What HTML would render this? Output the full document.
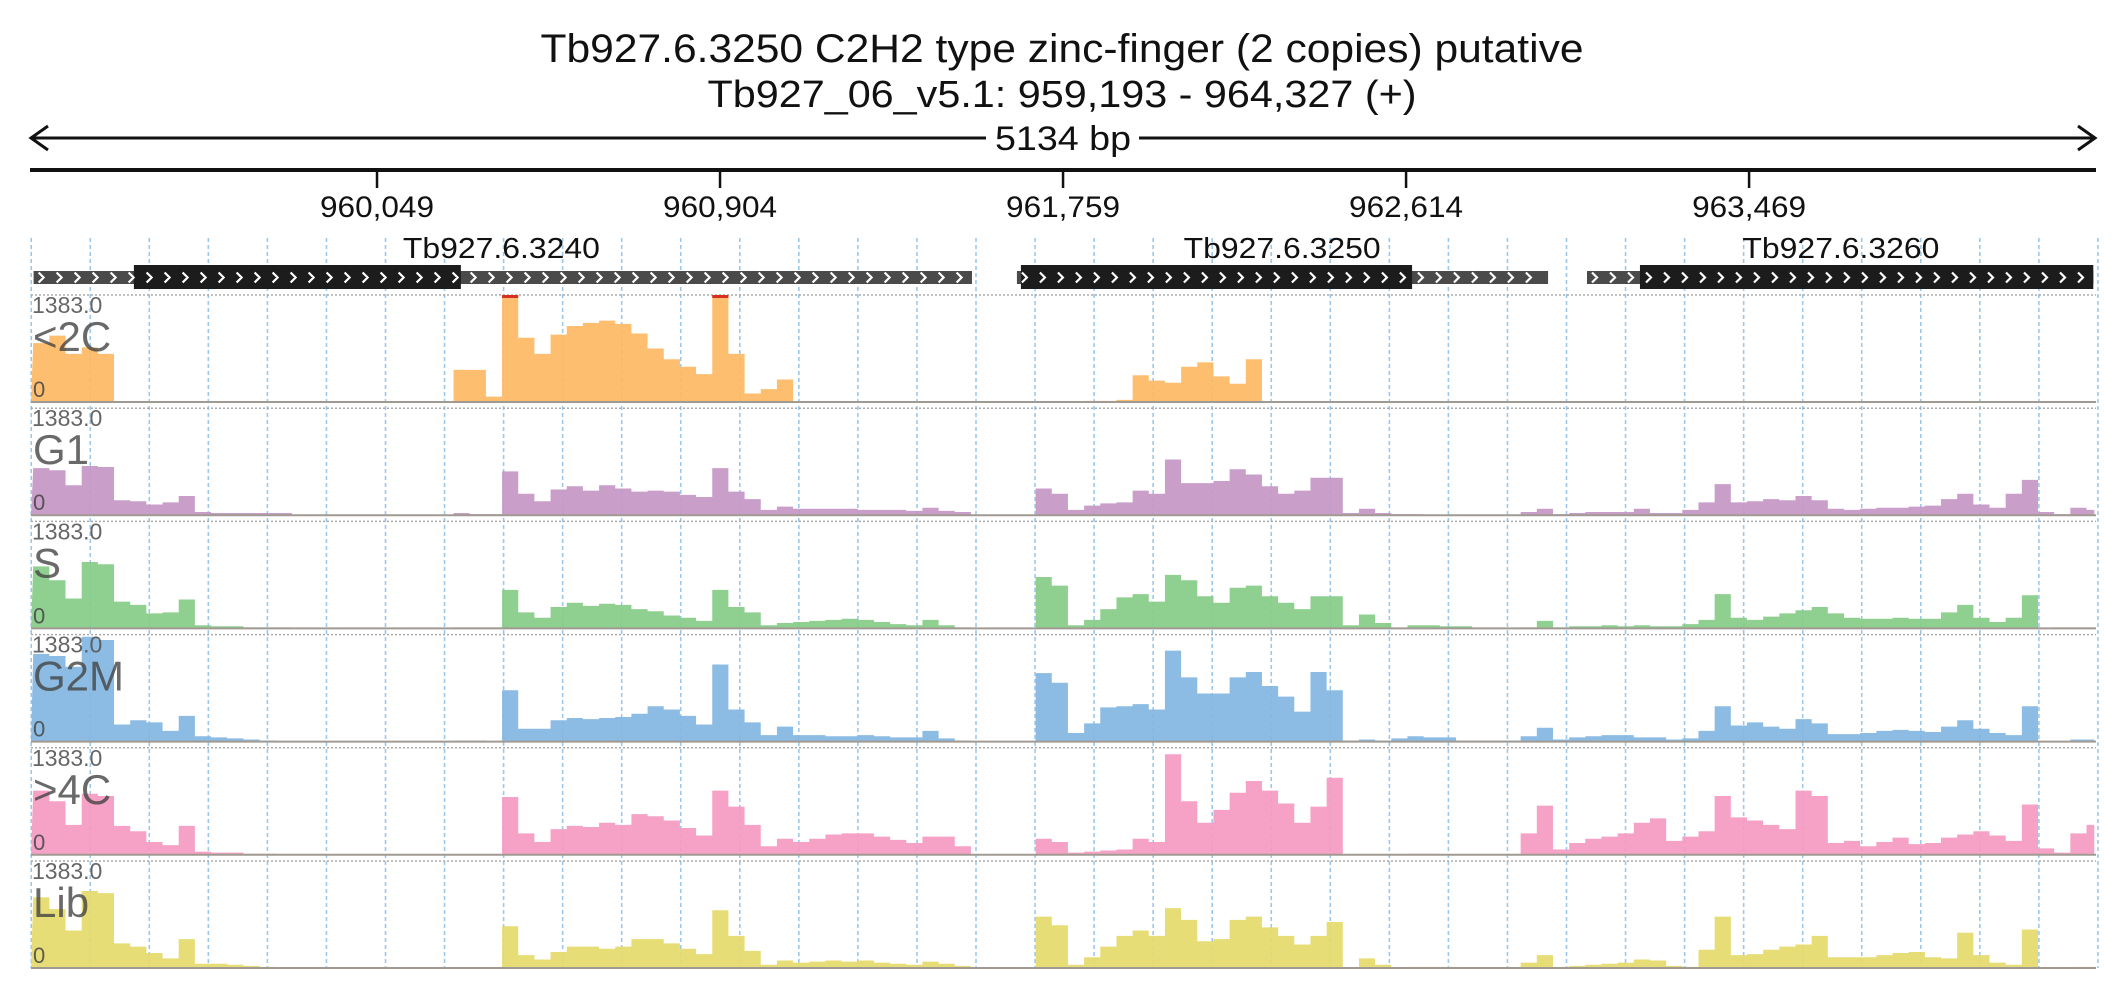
<!DOCTYPE html>
<html><head><meta charset="utf-8"><style>
html,body{margin:0;padding:0;background:#fff;}
svg{display:block;font-family:"Liberation Sans",sans-serif;}
</style></head><body>
<svg id="chart" width="2126" height="1000" viewBox="0 0 2126 1000" xmlns="http://www.w3.org/2000/svg">
<rect width="2126" height="1000" fill="#fff"/>
<text x="1062" y="62" font-size="40" text-anchor="middle" textLength="1043" lengthAdjust="spacingAndGlyphs" fill="#111">Tb927.6.3250  C2H2 type zinc-finger (2 copies)  putative</text>
<text x="1062" y="107" font-size="38" text-anchor="middle" textLength="709" lengthAdjust="spacingAndGlyphs" fill="#111">Tb927_06_v5.1: 959,193 - 964,327 (+)</text>
<g stroke="#111" stroke-width="3" fill="none">
<line x1="31" y1="138" x2="986" y2="138"/><line x1="1139" y1="138" x2="2095" y2="138"/>
<polyline points="48,126 31,138 48,150"/><polyline points="2078,126 2095,138 2078,150"/>
</g>
<text x="1063" y="150" font-size="34" text-anchor="middle" textLength="136" lengthAdjust="spacingAndGlyphs" fill="#111">5134 bp</text>
<line x1="30" y1="170" x2="2096" y2="170" stroke="#111" stroke-width="4"/>
<g id="ticks"></g>
<g id="grid"></g>
<g id="genes"></g>
<g id="tracks"></g>
</svg>
<script>
const domainStart = 959193;
const domainEnd = 964327;
const tickValues = [960049, 960904, 961759, 962614, 963469];
const tickLabels = ["960,049", "960,904", "961,759", "962,614", "963,469"];
const binStartBp = 959192;
const binSizeBp = 40.3;
const trackNames = ["<2C", "G1", "S", "G2M", ">4C", "Lib"];
const trackMaxLabel = "1383.0";
const geneNames = ["Tb927.6.3240", "Tb927.6.3250", "Tb927.6.3260"];
const geneLabelBp = [960359, 962305, 963698];
const geneUtrStart = [959193, 961644, 963065];
const geneUtrEnd = [961532, 962968, 964327];
const geneCdsStart = [959443, 961654, 963197];
const geneCdsEnd = [960258, 962629, 964327];
// coverage relative to track max (1 = 1383)
const covLt2C = [.55,.62,.45,.51,.45,0,0,0,0,0, 0,0,0,0,0,0,0,0,0,0, 0,0,0,0,0,0,.3,.3,.05,1.05,
.6,.45,.63,.71,.74,.76,.73,.64,.5,.4, .33,.26,1.05,.45,.08,.12,.21,0,0,0, 0,0,0,0,0,0,0,0,0,0,
0,0,0,0,0,.01,.01,.02,.25,.2, .18,.33,.37,.24,.17,.4,0,0,0,0, 0,0,0,0,0,0,0,0,0,0, 0,0,0,0,0,0,0,0,0,0,
0,0,0,0,0,0,0,0,0,0, 0,0,0,0,0,0,0,0,0,0, 0,0,0,0,0,0,0,0,0];
const covG1 = [.44,.42,.28,.46,.45,.14,.13,.1,.12,.18, .03,.02,.02,.02,.02,.02,0,0,0,0, 0,0,0,0,0,0,.02,.01,.01,.41,
.2,.13,.24,.27,.23,.28,.25,.22,.23,.22, .19,.17,.44,.22,.15,.05,.08,.06,.06,.06, .06,.05,.05,.05,.04,.07,.04,.03,0,0,
0,0,.25,.2,.05,.09,.11,.12,.23,.2, .52,.3,.3,.32,.43,.38,.27,.2,.23,.35, .35,.02,.06,.02,.01,.01,0,0,0,0,
0,0,.03,.06,.01,.02,.03,.03,.03,.06, .02,.02,.05,.12,.29,.12,.13,.15,.14,.18, .14,.06,.05,.06,.07,.07,.08,.09,.15,.2,
.1,.07,.2,.33,.03,.01,.07,.05,0];
const covS = [.58,.45,.28,.62,.6,.25,.22,.14,.15,.27, .03,.02,.02,.01,.01,.01,0,0,0,0, 0,0,0,0,0,0,.01,.01,.01,.36,
.15,.1,.2,.24,.21,.23,.22,.18,.16,.12, .1,.07,.36,.2,.15,.03,.05,.06,.07,.08, .09,.08,.06,.04,.03,.08,.03,.01,0,0,
0,0,.48,.4,.03,.08,.18,.29,.32,.25, .5,.45,.3,.24,.38,.4,.3,.24,.18,.3, .3,.03,.13,.05,0,.03,.03,.02,.02,0,
0,0,.01,.07,.01,.02,.02,.03,.02,.03, .02,.02,.04,.08,.32,.1,.08,.11,.14,.17, .2,.14,.1,.09,.09,.1,.09,.09,.15,.22,
.1,.06,.1,.31,0,.01,.01,.01,0];
const covG2M = [.82,.8,.7,.98,.95,.16,.2,.18,.1,.24, .05,.04,.03,.02,.01,0,0,0,0,0, 0,0,0,0,0,0,.01,.01,0,.48,
.12,.12,.2,.22,.21,.22,.23,.26,.33,.3, .24,.16,.72,.3,.18,.06,.14,.06,.06,.05, .05,.06,.05,.04,.04,.1,.03,.01,0,0,
0,0,.64,.55,.08,.17,.32,.33,.35,.3, .85,.6,.45,.45,.6,.65,.52,.42,.28,.65, .48,.01,.02,.01,.03,.05,.04,.04,.01,.01,
.01,.01,.05,.13,.02,.04,.05,.06,.06,.04, .04,.02,.03,.1,.33,.15,.18,.14,.12,.21, .17,.07,.07,.08,.1,.11,.1,.09,.14,.2,
.12,.08,.06,.33,0,0,.02,.02,0];
const covGt4C = [.6,.5,.28,.57,.55,.27,.22,.12,.09,.27, .03,.02,.02,.01,.01,0,0,0,0,0, 0,0,0,0,0,0,0,0,0,.54,
.2,.12,.24,.27,.26,.3,.28,.38,.36,.32, .25,.18,.6,.45,.28,.08,.15,.12,.15,.19, .2,.2,.17,.14,.11,.17,.17,.08,0,0,
0,0,.15,.12,.02,.03,.04,.05,.15,.12, .94,.5,.3,.42,.58,.69,.6,.48,.3,.45, .72,0,0,0,0,.01,.01,0,0,0,
0,0,.2,.46,.05,.11,.15,.17,.2,.3, .34,.13,.17,.22,.55,.35,.32,.28,.24,.6, .55,.11,.13,.08,.12,.16,.1,.11,.16,.19,
.22,.18,.13,.47,.06,.02,.2,.28,0];
const covLib = [.66,.55,.35,.72,.7,.23,.2,.14,.09,.27, .04,.04,.03,.02,.01,0,0,0,0,0, 0,0,0,0,0,0,0,0,0,.39,
.12,.08,.15,.2,.2,.18,.2,.27,.27,.23, .18,.13,.54,.3,.16,.03,.07,.05,.06,.07, .06,.07,.05,.04,.03,.06,.04,.02,0,0,
0,0,.48,.4,.03,.1,.2,.3,.35,.3, .56,.45,.25,.27,.45,.48,.38,.3,.22,.3, .43,0,.09,.03,0,.01,.01,.01,0,0,
0,0,.05,.12,.01,.02,.03,.04,.05,.08, .07,.02,.01,.17,.48,.12,.13,.17,.2,.22, .3,.1,.1,.1,.12,.14,.15,.1,.09,.33,
.12,.05,.03,.36,0,0,.01,.01,0];
const trackSeries = [covLt2C, covG1, covS, covG2M, covGt4C, covLib];
const trackColors = ["#fdb863", "#c497c6", "#86cc88", "#82b6e1", "#f49ac1", "#e5da6a"];

const NS = "http://www.w3.org/2000/svg";
const X0 = 33.6, X1 = 2093.3;
function xScale(bp){ return X0 + (bp - domainStart) / (domainEnd - domainStart) * (X1 - X0); }
const trackTop0 = 295, trackPitch = 113.2, trackH = 107;
function yScale(k, v){ return trackTop0 + trackPitch*k + trackH - Math.min(v,1)*trackH; }
function mk(tag, attrs, parent){ const e = document.createElementNS(NS, tag); for (const a in attrs) e.setAttribute(a, attrs[a]); parent.appendChild(e); return e; }

const tg = document.getElementById('ticks');
tickValues.forEach((t,i)=>{
  const x = xScale(t);
  const l = mk('line',{x1:x,y1:170,x2:x,y2:188,stroke:'#111','stroke-width':2.5},tg);
  
  
  const tx = mk('text',{x:x,y:217,'font-size':30,'text-anchor':'middle',textLength:114,lengthAdjust:'spacingAndGlyphs',fill:'#111'},tg);
  tx.textContent = tickLabels[i];
  
  
});

const gg = document.getElementById('grid');
for (let k=0;k<=35;k++){
  const x = 31.2 + 59.05*k;
  const l = mk('line',{x1:x,y1:238,x2:x,y2:968,stroke:'#9cc8ec','stroke-width':1.6,'stroke-dasharray':'4,3'},gg);
  
  
}

const ge = document.getElementById('genes');
function chevrons(x1,x2,yc){
  let d='';
  for (let x=x1+5; x<x2-6; x+=18){ d += `M${x},${yc-5} l5,5 l-5,5 `; }
  mk('path',{d:d,stroke:'#fff','stroke-width':2.2,fill:'none'},ge);
}
geneNames.forEach((n,i)=>{
  const u1=xScale(geneUtrStart[i]), u2=xScale(geneUtrEnd[i]);
  const c1=xScale(geneCdsStart[i]), c2=xScale(geneCdsEnd[i]);
  const utr = mk('rect',{x:u1,y:271,width:u2-u1,height:13,fill:'#4a4a4a'},ge);
  
  
  const cds = mk('rect',{x:c1,y:265,width:c2-c1,height:24,fill:'#1c1c1c'},ge);
  
  
  chevrons(u1,u2,277.5);
  const lab = mk('text',{x:xScale(geneLabelBp[i]),y:258,'font-size':29,'text-anchor':'middle',textLength:197,lengthAdjust:'spacingAndGlyphs',fill:'#111'},ge);
  lab.textContent = n;
  
  
});

const trg = document.getElementById('tracks');
trackSeries.forEach((vals,k)=>{
  const top = trackTop0 + trackPitch*k, base = top + trackH;
  const g = mk('g',{},trg);
  
  
  const tl = mk('line',{x1:31,y1:top,x2:2096,y2:top,stroke:'#aaa','stroke-width':1.5,'stroke-dasharray':'2,2'},g);
  
  
  const xLeft = X0-2.6, xRight = X1+1;
  let d = `M${xLeft},${base}`;
  const caps = [];
  vals.forEach((v,i)=>{
    const xa = Math.min(xRight, Math.max(xLeft, xScale(binStartBp + i*binSizeBp)));
    const xb = Math.min(xRight, xScale(binStartBp + (i+1)*binSizeBp));
    if (xb <= xa) return;
    const y = yScale(k,v);
    d += ` L${xa},${y} L${xb},${y}`;
    if (v >= 1) caps.push([xa,xb]);
  });
  d += ` L${xRight},${base} Z`;
  const area = mk('path',{d:d,fill:trackColors[k],'fill-opacity':0.92},g);
  
  
  caps.forEach(c=>{
    const r = mk('rect',{x:c[0],y:top,width:c[1]-c[0],height:3,fill:'#d7301f'},g);
    
    
  });
  const bl = mk('line',{x1:31,y1:base,x2:2096,y2:base,stroke:'#a09a92','stroke-width':2},g);
  
  
  const mx = mk('text',{x:32,y:top+18,'font-size':23,fill:'#555','fill-opacity':0.9},g);
  mx.textContent = trackMaxLabel;
  
  
  const nm = mk('text',{x:33,y:top+56,'font-size':42,fill:'#444','fill-opacity':0.8},g);
  nm.textContent = trackNames[k];
  
  
  const z = mk('text',{x:33,y:base-5,'font-size':22,fill:'#444','fill-opacity':0.85},g);
  z.textContent = '0';
  
  
});
</script>
</body></html>
